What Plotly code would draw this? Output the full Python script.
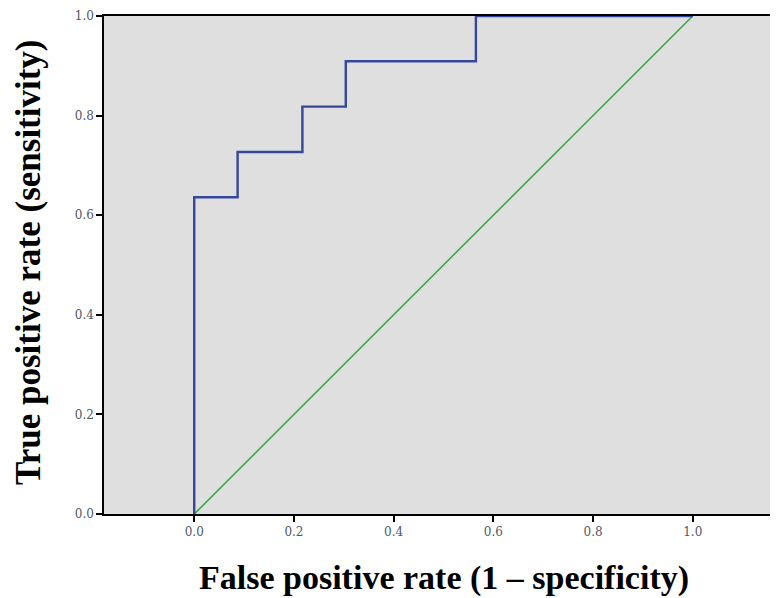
import plotly.graph_objects as go

# ROC curve points (step function)
fpr = [0.0, 0.0, 0.087, 0.087, 0.217, 0.217, 0.304, 0.304, 0.565, 0.565, 1.0]
tpr = [0.0, 0.636, 0.636, 0.727, 0.727, 0.818, 0.818, 0.909, 0.909, 1.0, 1.0]
ref_x = [0.0, 1.0]
ref_y = [0.0, 1.0]
tick_vals = [0.0, 0.2, 0.4, 0.6, 0.8, 1.0]
tick_text = ["0.0", "0.2", "0.4", "0.6", "0.8", "1.0"]

fig = go.Figure()
fig.add_trace(go.Scatter(x=ref_x, y=ref_y, mode="lines",
                         line=dict(color="#3aa94a", width=1.6), hoverinfo="skip"))
fig.add_trace(go.Scatter(x=fpr, y=tpr, mode="lines",
                         line=dict(color="#34479a", width=2.4)))

OFF = 8  # page body margin
W, H = 778 - OFF, 598 - OFF
ml, mr, mt, mb = 96, 0, 8, 84
# plot area in page pixels
PX0, PX1, PY0, PY1 = OFF + ml, OFF + W - mr, OFF + mt, OFF + H - mb
pw, ph = PX1 - PX0, PY1 - PY0

tickfont = dict(family="DejaVu Serif", size=12, color="#505868")

fig.update_layout(
    width=W, height=H,
    margin=dict(l=ml, r=mr, t=mt, b=mb),
    paper_bgcolor="white", plot_bgcolor="#dfdfdf",
    showlegend=False,
    xaxis=dict(range=[-0.181, 1.171], tickvals=tick_vals, ticktext=tick_text,
               showgrid=False, zeroline=False, showline=True, linecolor="black",
               linewidth=1.5, mirror=True, ticks="outside", ticklen=6, tickwidth=2,
               tickcolor="black", tickfont=tickfont),
    yaxis=dict(range=[0, 1.0], tickvals=tick_vals, ticktext=tick_text,
               showgrid=False, zeroline=False, showline=True, linecolor="black",
               linewidth=1.5, ticks="outside", ticklen=6, tickwidth=2,
               tickcolor="black", tickfont=tickfont),
    annotations=[
        dict(text="<b>False positive rate (1 – specificity)</b>", xref="paper", yref="paper",
             x=(444 - PX0) / pw, y=(PY1 - 578) / ph, xanchor="center", yanchor="middle",
             showarrow=False, font=dict(family="Liberation Serif", size=34, color="black")),
        dict(text="<b>True positive rate (sensitivity)</b>", xref="paper", yref="paper",
             x=(28 - PX0) / pw, y=(PY1 - 262) / ph, xanchor="center", yanchor="middle",
             textangle=-90, showarrow=False,
             font=dict(family="Liberation Serif", size=35, color="black")),
    ],
)

fig.write_html("out.html")
